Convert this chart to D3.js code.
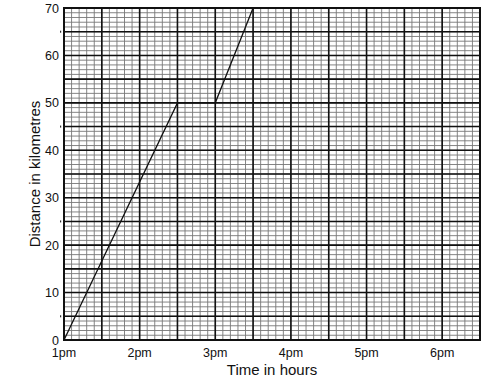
<!DOCTYPE html>
<html><head><meta charset="utf-8">
<script src="https://cdn.jsdelivr.net/npm/d3@7"></script>
<style>body{margin:0;background:#fff}text{font-family:"Liberation Sans",Arial,sans-serif;fill:#111}</style>
</head><body><svg id="c" width="499" height="384"></svg>
<script>
const times = [1, 2.5, 3, 3.5];          // hours (pm)
const distances = [0, 50, 50, 70];        // km
const xTicks = [1, 2, 3, 4, 5, 6];
const xTickLabels = ["1pm", "2pm", "3pm", "4pm", "5pm", "6pm"];
const yTicks = [0, 10, 20, 30, 40, 50, 60, 70];
const yMinorMarks = [5, 25, 45, 65];

const svg = d3.select("#c");
const L = 64, R = 480, T = 8, B = 340;
const x = d3.scaleLinear().domain([1, 6.5]).range([L, R]);
const y = d3.scaleLinear().domain([0, 70]).range([B, T]);

const g = svg.append("g");
// minor grid
const minorX = d3.range(1, 6.5001, 0.1);
const minorY = d3.range(0, 70.001, 1);
g.selectAll(".mx").data(minorX).join("line")
  .attr("x1", d => x(d)).attr("x2", d => x(d)).attr("y1", T).attr("y2", B)
  .attr("stroke", "#777").attr("stroke-width", 0.9);
g.selectAll(".my").data(minorY).join("line")
  .attr("y1", d => y(d)).attr("y2", d => y(d)).attr("x1", L).attr("x2", R)
  .attr("stroke", "#777").attr("stroke-width", 0.9);
// major grid
const majorX = d3.range(1, 6.5001, 0.5);
const majorY = d3.range(0, 70.001, 5);
g.selectAll(".Mx").data(majorX).join("line")
  .attr("x1", d => x(d)).attr("x2", d => x(d)).attr("y1", T).attr("y2", B)
  .attr("stroke", "#111").attr("stroke-width", 1.6);
g.selectAll(".My").data(majorY).join("line")
  .attr("y1", d => y(d)).attr("y2", d => y(d)).attr("x1", L).attr("x2", R)
  .attr("stroke", "#111").attr("stroke-width", 1.6);
g.append("rect").attr("x", L).attr("y", T).attr("width", R - L).attr("height", B - T)
  .attr("fill", "none").attr("stroke", "#111").attr("stroke-width", 2);

// data line
const line = d3.line().x((d, i) => x(times[i])).y(d => y(d));
svg.append("path").attr("d", line(distances)).attr("fill", "none")
  .attr("stroke", "#111").attr("stroke-width", 1.3);

// small marks beside axis
svg.selectAll(".dot").data(yMinorMarks).join("rect")
  .attr("x", L - 4).attr("y", d => y(d) - 1).attr("width", 1.2).attr("height", 2)
  .attr("fill", "#333");

// axes labels
svg.selectAll(".yt").data(yTicks).join("text")
  .attr("x", L - 5).attr("y", d => y(d) + 4.5).attr("text-anchor", "end")
  .attr("font-size", 12.5).text(d => d);
svg.selectAll(".xt").data(xTicks).join("text")
  .attr("x", d => x(d)).attr("y", B + 17).attr("text-anchor", "middle")
  .attr("font-size", 12.5).text((d, i) => xTickLabels[i]);
svg.append("text").attr("x", 272).attr("y", B + 35).attr("text-anchor", "middle")
  .attr("font-size", 15).text("Time in hours");
svg.append("text").attr("transform", `translate(40,${(T + B) / 2}) rotate(-90)`)
  .attr("text-anchor", "middle").attr("font-size", 15).text("Distance in kilometres");
</script></body></html>
